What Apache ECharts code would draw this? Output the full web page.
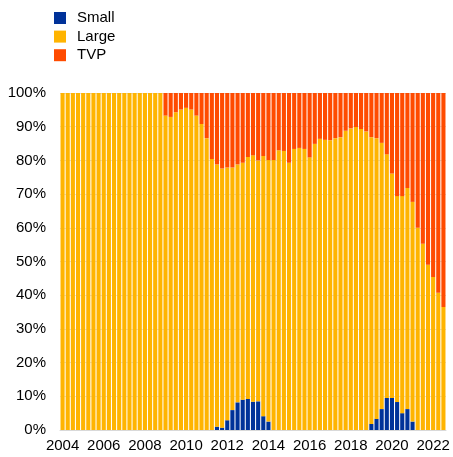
<!DOCTYPE html>
<html>
<head>
<meta charset="utf-8">
<script src="https://cdn.jsdelivr.net/npm/echarts@6/dist/echarts.min.js"></script>
<style>
  html, body { margin: 0; padding: 0; background: #fff; }
  #chart { width: 453px; height: 457px; }
</style>
</head>
<body>
<div id="chart"></div>
<script>
// quarterly, 2004Q1 .. 2022Q3
const quarters = [];
for (let y = 2004; y <= 2022; y++) {
  for (let q = 1; q <= 4; q++) {
    if (y === 2022 && q === 4) break;
    quarters.push(y + 'Q' + q);
  }
}

const small = [
  0, 0, 0, 0, 0, 0, 0, 0, 0, 0,
  0, 0, 0, 0, 0, 0, 0, 0, 0, 0,
  0, 0, 0, 0, 0, 0, 0, 0, 0, 0,
  1.0, 0.7, 2.9, 5.9, 8.2, 9.0, 9.2, 8.4, 8.5, 4.1,
  2.5, 0, 0, 0, 0, 0, 0, 0, 0, 0,
  0, 0, 0, 0, 0, 0, 0, 0, 0, 0,
  1.8, 3.3, 6.2, 9.5, 9.5, 8.3, 5.0, 6.2, 2.5, 0,
  0, 0, 0, 0, 0
];

const large = [
  100, 100, 100, 100, 100, 100, 100, 100, 100, 100,
  100, 100, 100, 100, 100, 100, 100, 100, 100, 100,
  93.3, 92.9, 94.3, 95.1, 95.6, 95.1, 93.3, 90.8, 86.6, 80.4,
  77.8, 76.9, 75.0, 72.0, 70.6, 70.3, 71.8, 73.1, 71.5, 77.2,
  77.6, 80.1, 83.0, 82.8, 79.3, 83.4, 83.7, 83.4, 80.9, 84.9,
  86.4, 86.1, 86.0, 86.6, 86.9, 88.8, 89.5, 89.9, 89.3, 88.6,
  85.1, 83.3, 79.0, 72.3, 66.6, 61.1, 64.4, 65.6, 65.2, 60.0,
  55.3, 49.0, 45.4, 40.7, 36.5
];

const tvp = [
  0, 0, 0, 0, 0, 0, 0, 0, 0, 0,
  0, 0, 0, 0, 0, 0, 0, 0, 0, 0,
  6.7, 7.1, 5.7, 4.9, 4.4, 4.9, 6.7, 9.2, 13.4, 19.6,
  21.2, 22.4, 22.1, 22.1, 21.2, 20.7, 19.0, 18.5, 20.0, 18.7,
  19.9, 19.9, 17.0, 17.2, 20.7, 16.6, 16.3, 16.6, 19.1, 15.1,
  13.6, 13.9, 14.0, 13.4, 13.1, 11.2, 10.5, 10.1, 10.7, 11.4,
  13.1, 13.4, 14.8, 18.2, 23.9, 30.6, 30.6, 28.2, 32.3, 40.0,
  44.7, 51.0, 54.6, 59.3, 63.5
];

const yTicks = [0, 10, 20, 30, 40, 50, 60, 70, 80, 90, 100];

const chart = echarts.init(document.getElementById('chart'), null, { renderer: 'canvas' });

const font = 'Arial, "Liberation Sans", sans-serif';

chart.setOption({
  animation: false,
  color: ['#003299', '#FFB400', '#FF4B00'],
  legend: {
    orient: 'vertical',
    left: 54,
    top: 10.5,
    padding: 0,
    itemWidth: 12,
    itemHeight: 12,
    itemGap: 3.6,
    icon: 'rect',
    textStyle: { fontFamily: font, fontSize: 15, color: '#000', padding: [0, 0, 0, 6] },
    data: ['Small', 'Large', 'TVP']
  },
  grid: { left: 60, right: 7, top: 93, bottom: 27 },
  xAxis: {
    type: 'category',
    data: quarters,
    axisLine: { lineStyle: { color: '#d9d9d9', width: 1 } },
    axisTick: { show: false },
    axisLabel: {
      interval: 7,
      fontFamily: font,
      fontSize: 15,
      color: '#000',
      margin: 8,
      formatter: v => v.slice(0, 4)
    }
  },
  yAxis: {
    type: 'value',
    min: yTicks[0],
    max: yTicks[yTicks.length - 1],
    interval: 10,
    axisLine: { show: false },
    axisTick: { show: false },
    splitLine: { lineStyle: { color: '#e0e0e0', width: 1 } },
    axisLabel: {
      fontFamily: font,
      fontSize: 15,
      color: '#000',
      margin: 14,
      formatter: '{value}%'
    }
  },
  series: [
    { name: 'Small', type: 'bar', stack: 'total', data: small, barCategoryGap: '20%' },
    { name: 'Large', type: 'bar', stack: 'total', data: large, barCategoryGap: '20%' },
    { name: 'TVP', type: 'bar', stack: 'total', data: tvp, barCategoryGap: '20%' }
  ]
});
</script>
</body>
</html>
